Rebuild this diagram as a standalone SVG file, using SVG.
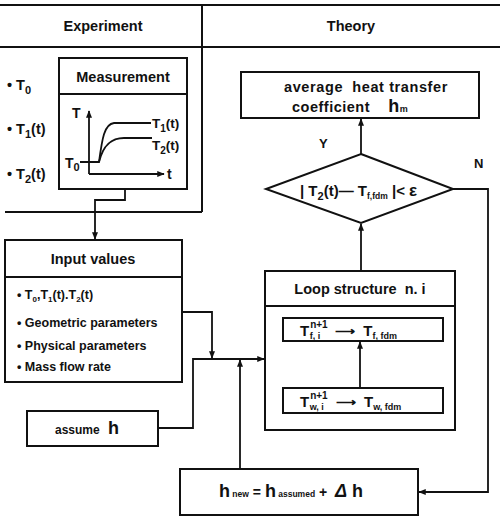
<svg xmlns="http://www.w3.org/2000/svg" width="500" height="517" viewBox="0 0 500 517">
<defs>
<style>
.b{fill:#fff;stroke:#111;stroke-width:2}
.l{fill:none;stroke:#111;stroke-width:2}
.c{fill:none;stroke:#111;stroke-width:1.8}
text{font-family:"Liberation Sans",Arial,sans-serif;fill:#111;font-weight:bold}
.h{font-size:14.5px;text-anchor:middle}
.s{font-size:8px}
.i{font-size:12.5px}
</style>
<marker id="ar" viewBox="0 0 10 8" refX="9" refY="4" markerWidth="8" markerHeight="6" orient="auto" markerUnits="userSpaceOnUse">
<path d="M0,0 L10,4 L0,8 z" fill="#111"/>
</marker>
</defs>
<rect width="500" height="517" fill="#fff"/>

<g id="frame">
<line class="l" x1="0" y1="5" x2="500" y2="5"/>
<line class="l" x1="0" y1="47" x2="500" y2="47"/>
<line class="l" x1="202" y1="5" x2="202" y2="212"/>
<line class="l" x1="5" y1="212" x2="202" y2="212"/>
<text class="h" x="103" y="31">Experiment</text>
<text class="h" x="351" y="31">Theory</text>
</g>

<g id="bullets">
<text x="7" y="90" font-size="14.5">• T<tspan dy="4" font-size="11">0</tspan></text>
<text x="7" y="134" font-size="14.5">• T<tspan dy="4" font-size="11">1</tspan><tspan dy="-4">(t)</tspan></text>
<text x="7" y="179" font-size="14.5">• T<tspan dy="4" font-size="11">2</tspan><tspan dy="-4">(t)</tspan></text>
</g>

<g id="measurement">
<rect class="b" x="59" y="58" width="128" height="131"/>
<line class="l" x1="59" y1="94" x2="187" y2="94"/>
<text class="h" x="123" y="82">Measurement</text>
<line class="c" x1="89" y1="174" x2="89" y2="111" marker-end="url(#ar)"/>
<line class="c" x1="89" y1="174" x2="164" y2="174" marker-end="url(#ar)"/>
<path class="c" d="M80,162 H99 C102,140 104,124 114,123 H151"/>
<path class="c" d="M99,162 C104,142 114,138 124,138 H152"/>
<text x="72" y="118" font-size="14">T</text>
<text x="65" y="168" font-size="14">T<tspan dy="3" font-size="11">0</tspan></text>
<text x="152" y="128" font-size="13.5">T<tspan dy="4" font-size="10">1</tspan><tspan dy="-4">(t)</tspan></text>
<text x="152" y="150" font-size="13.5">T<tspan dy="4" font-size="10">2</tspan><tspan dy="-4">(t)</tspan></text>
<text x="167" y="179" font-size="14">t</text>
</g>

<g id="input">
<rect class="b" x="5" y="240" width="177" height="142"/>
<line class="l" x1="5" y1="277" x2="182" y2="277"/>
<text class="h" x="93" y="264">Input values</text>
<text class="i" x="17" y="299">• T<tspan dy="3" class="s">0</tspan><tspan dy="-3">,T</tspan><tspan dy="3" class="s">1</tspan><tspan dy="-3">(t).T</tspan><tspan dy="3" class="s">2</tspan><tspan dy="-3">(t)</tspan></text>
<text class="i" x="17" y="327">• Geometric parameters</text>
<text class="i" x="17" y="350">• Physical parameters</text>
<text class="i" x="17" y="371">• Mass flow rate</text>
</g>

<g id="assume">
<rect class="b" x="27" y="411" width="131" height="35"/>
<text x="55" y="434" font-size="12">assume <tspan font-size="18" dx="5">h</tspan></text>
</g>

<g id="hnew">
<rect class="b" x="180" y="469" width="238" height="46"/>
<text x="219" y="497" font-size="18">h<tspan font-size="8.5"> new</tspan><tspan font-size="14"> = </tspan><tspan>h</tspan><tspan font-size="8.5"> assumed</tspan><tspan font-size="14"> +&#160;&#160;</tspan><tspan font-style="italic">Δ</tspan><tspan> h</tspan></text>
</g>

<g id="result">
<rect class="b" x="241" y="72" width="238" height="46"/>
<text class="h" x="366" y="92" style="letter-spacing:0.6px">average&#160; heat transfer</text>
<text x="292" y="112" font-size="14.5" style="letter-spacing:0.5px">coefficient&#160;&#160;&#160; <tspan font-size="18">h</tspan><tspan font-size="9">m</tspan></text>
</g>

<g id="decision">
<polygon class="b" points="361,154 453,189 361,223 266,189"/>
<text x="300" y="196" font-size="15">| T<tspan dy="4" font-size="11">2</tspan><tspan dy="-4">(t)— T</tspan><tspan dy="3" font-size="8.5">f,fdm</tspan><tspan dy="-3"> |&lt; </tspan><tspan font-size="17">ε</tspan></text>
<text x="319" y="148" font-size="13">Y</text>
<text x="474" y="168" font-size="13">N</text>
</g>

<g id="loop">
<rect class="b" x="265" y="271" width="190" height="159"/>
<line class="l" x1="265" y1="306" x2="455" y2="306"/>
<text class="h" x="360" y="294">Loop structure&#160; n. i</text>
<rect class="b" x="283" y="318" width="160" height="23"/>
<text x="300" y="336" font-size="15">T<tspan dx="1" dy="-8" font-size="10">n+1</tspan><tspan dx="-18" dy="11" font-size="9">f, i</tspan><tspan dx="15" dy="-3" font-size="14">⟶</tspan><tspan dx="4"> T</tspan><tspan dy="3" font-size="9">f, fdm</tspan></text>
<rect class="b" x="283" y="388" width="160" height="25"/>
<text x="300" y="407" font-size="15">T<tspan dx="1" dy="-8" font-size="10">n+1</tspan><tspan dx="-18" dy="11" font-size="9">w, i</tspan><tspan dx="12" dy="-3" font-size="14">⟶</tspan><tspan dx="4"> T</tspan><tspan dy="3" font-size="9">w, fdm</tspan></text>
<line class="c" x1="360" y1="388" x2="360" y2="342" marker-end="url(#ar)"/>
</g>

<g id="connectors">
<polyline class="c" points="125,189 125,200 95,200 95,239" marker-end="url(#ar)"/>
<polyline class="c" points="182,312 212,312 212,358" marker-end="url(#ar)"/>
<polyline class="c" points="158,428 193,428 193,359 264,359" marker-end="url(#ar)"/>
<line class="c" x1="240" y1="469" x2="240" y2="360" marker-end="url(#ar)"/>
<line class="c" x1="361" y1="271" x2="361" y2="224" marker-end="url(#ar)"/>
<line class="c" x1="361" y1="154" x2="361" y2="119" marker-end="url(#ar)"/>
<polyline class="c" points="453,189 488,189 488,492 419,492" marker-end="url(#ar)"/>
</g>
</svg>
